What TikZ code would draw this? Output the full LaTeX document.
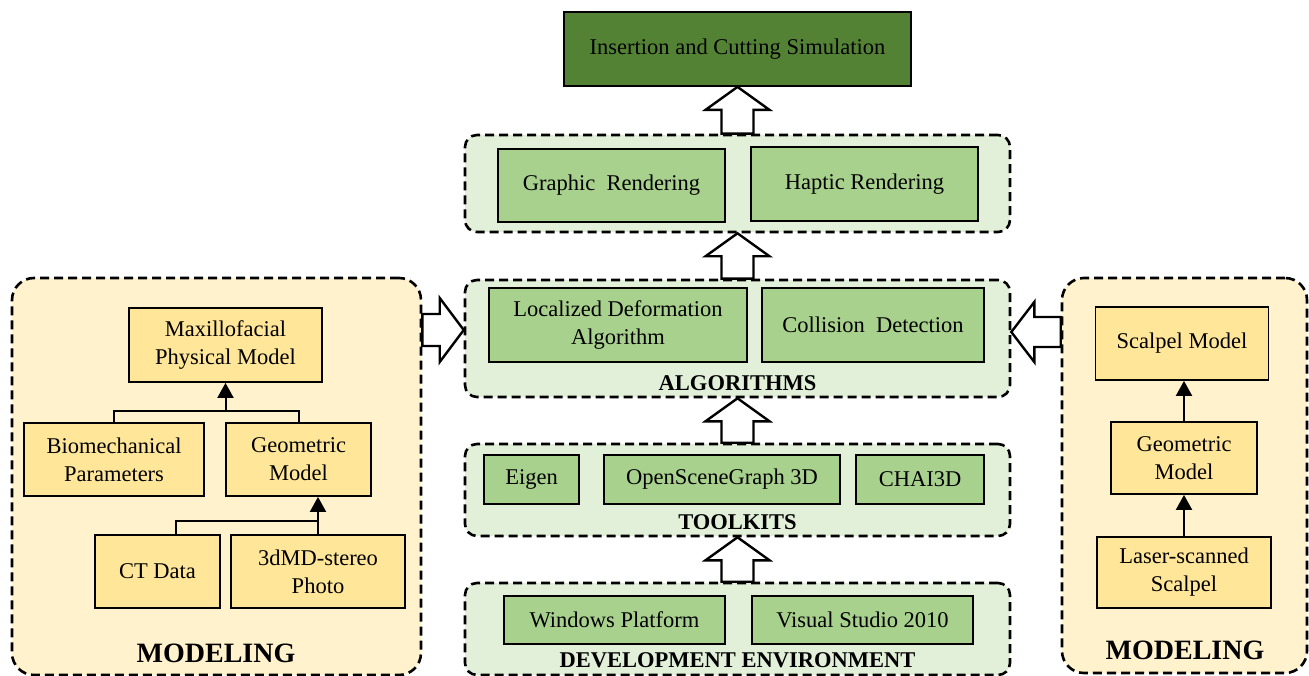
\documentclass[tikz,border=0pt]{standalone}
\usepackage{fontspec}
\setmainfont{Liberation Serif}
\usepackage{xcolor}
\usetikzlibrary{calc,positioning,arrows.meta}
\definecolor{Forest}{HTML}{548235}
\definecolor{Leaf}{HTML}{A9D18E}
\definecolor{Mint}{HTML}{E2F0D9}
\definecolor{Straw}{HTML}{FFE699}
\definecolor{Cream}{HTML}{FFF2CC}
% hollow block arrow from the top of #1 up to the bottom of #2
\newcommand{\hollowup}[2]{\draw[hollow] (#2.south) -- ++(32,23) -- ++(-16,0) |- (#1.north) -- ++(-16,0) |- ($(#2.south)+(-32,23)$) -- cycle;}

\begin{document}
\begin{tikzpicture}[x=1pt,y=-1pt,
  unit/.style={draw=black,line width=1.8pt,fill=#1,inner sep=0pt,align=center,font=\fontsize{22.5}{28}\selectfont},
  layer/.style={draw=black,line width=2.6pt,dash pattern=on 9pt off 5pt,fill=#1,rounded corners=12pt,inner sep=0pt},
  title/.style={font=\fontsize{22.5}{26}\selectfont\bfseries,inner sep=0pt},
  bigtitle/.style={font=\fontsize{28}{32}\selectfont\bfseries,inner sep=0pt},
  hollow/.style={draw=black,fill=white,line width=2.4pt,line join=miter},
  tree/.style={line width=2pt},
  treearrow/.style={tree,-{Triangle[width=16pt,length=15pt]}}
]
\fill[white] (0,0) rectangle (1309,676);
\useasboundingbox (0,0) rectangle (1309,676);

% layers
\node[layer=Mint,minimum width=545pt,minimum height=97pt] (rend) at (737.5,183.5) {};
\node[layer=Mint,minimum width=545pt,minimum height=117pt] (alg) at (737.5,338.5) {};
\node[layer=Mint,minimum width=545pt,minimum height=92pt] (tool) at (737.5,490) {};
\node[layer=Mint,minimum width=545pt,minimum height=92pt] (dev) at (737.5,629) {};
\node[layer=Cream,rounded corners=22pt,minimum width=409pt,minimum height=397pt] (lmod) at (216.5,476.5) {};
\node[layer=Cream,rounded corners=22pt,minimum width=245pt,minimum height=395pt] (rmod) at (1184.5,475.5) {};

% centre column
\node[unit=Forest,minimum width=347pt,minimum height=74pt] (sim) at (737.5,49) {Insertion and Cutting Simulation};
\node[unit=Leaf,minimum width=227pt,minimum height=73pt] (graph) at (611.5,185.5) {Graphic\ \ Rendering};
\node[unit=Leaf,minimum width=227pt,minimum height=74pt] (hapt) at (864.5,184) {Haptic Rendering};
\node[unit=Leaf,minimum width=258pt,minimum height=74pt] (loc) at (618,325) {Localized Deformation\\Algorithm};
\node[unit=Leaf,minimum width=222pt,minimum height=74pt] (coll) at (873,325) {Collision\ \ Detection};
\node[title] (algt) at (737.5,383) {ALGORITHMS};
\node[unit=Leaf,minimum width=95pt,minimum height=49pt] (eig) at (531.5,479.5) {Eigen};
\node[unit=Leaf,minimum width=236pt,minimum height=49pt] (osg) at (722,479.5) {OpenSceneGraph 3D};
\node[unit=Leaf,minimum width=128pt,minimum height=49pt] (chai) at (920,479.5) {CHAI3D};
\node[title] (toolt) at (737.5,522) {TOOLKITS};
\node[unit=Leaf,minimum width=221pt,minimum height=48pt] (win) at (614.5,620) {Windows Platform};
\node[unit=Leaf,minimum width=221pt,minimum height=48pt] (vs) at (862.5,620) {Visual Studio 2010};
\node[title] (devt) at (737.5,660) {DEVELOPMENT ENVIRONMENT};

% left modeling
\node[unit=Straw,minimum width=193pt,minimum height=74pt] (maxi) at (225.5,345) {Maxillofacial\\Physical Model};
\node[unit=Straw,minimum width=180pt,minimum height=73pt] (bio) at (114,459.5) {Biomechanical\\Parameters};
\node[unit=Straw,minimum width=145pt,minimum height=73pt] (geo) at (298.5,459.5) {Geometric\\Model};
\node[unit=Straw,minimum width=125pt,minimum height=73pt] (ct) at (157.5,571.5) {CT Data};
\node[unit=Straw,minimum width=174pt,minimum height=73pt] (md) at (318,571.5) {3dMD-stereo\\Photo};
\node[bigtitle] (lmodt) at (216,653) {MODELING};

% right modeling
\node[unit=Straw,minimum width=173pt,minimum height=73pt] (scal) at (1182,343.5) {Scalpel Model};
\node[unit=Straw,minimum width=146pt,minimum height=72pt] (geor) at (1184,458) {Geometric\\Model};
\node[unit=Straw,minimum width=174pt,minimum height=71pt] (las) at (1184,572.5) {Laser-scanned\\Scalpel};
\node[bigtitle] (rmodt) at (1185,650) {MODELING};

% tree connectors
\coordinate (upj) at ($(maxi.south)+(0,28)$);
\coordinate (lowj) at ($(md.north)+(0,-13)$);
\draw[tree] (bio.north) |- (upj) -| (geo.north);
\draw[treearrow] (upj) -- (maxi.south);
\draw[tree] ($(ct.north)+(18,0)$) |- (lowj);
\draw[treearrow] (md.north) -- (md.north |- geo.south);
\draw[treearrow] (geor.north) -- (geor.north |- scal.south);
\draw[treearrow] (las.north) -- (geor.south);

% block arrows
\hollowup{rend}{sim}
\hollowup{alg}{rend}
\hollowup{tool}{alg}
\hollowup{dev}{tool}
\coordinate (la) at (alg.west |- 0,330);
\coordinate (lb) at (lmod.east |- la);
\draw[hollow] (la) -- ++(-24,-32) -- ++(0,16) -- ($(lb)+(0,-16)$) -- ($(lb)+(0,16)$) -- ($(la)+(-24,16)$) -- ++(0,16) -- cycle;
\coordinate (ra) at (alg.east |- 0,332);
\coordinate (rb) at (rmod.west |- ra);
\draw[hollow] (ra) -- ++(23,-30) -- ++(0,15) -- ($(rb)+(0,-15)$) -- ($(rb)+(0,15)$) -- ($(ra)+(23,15)$) -- ++(0,15) -- cycle;
\end{tikzpicture}
\end{document}
